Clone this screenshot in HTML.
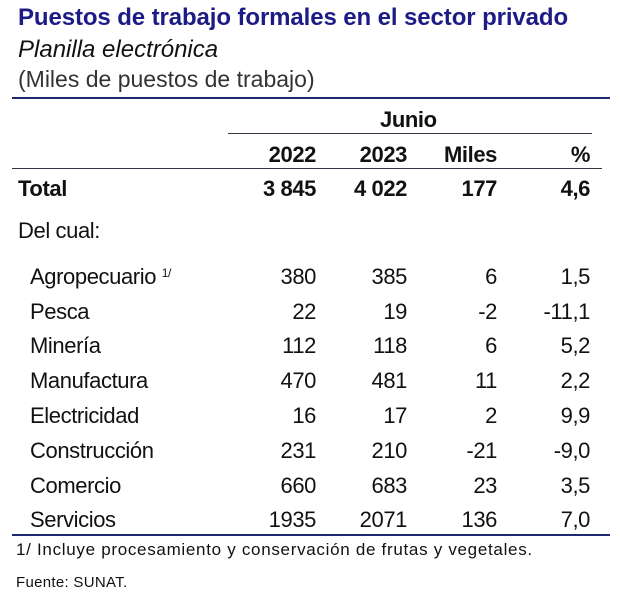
<!DOCTYPE html>
<html><head><meta charset="utf-8"><style>
html,body{margin:0;padding:0;background:#fff;}
body{width:620px;height:612px;position:relative;overflow:hidden;font-family:"Liberation Sans",Arial,sans-serif;color:#111;}
.t{position:absolute;white-space:nowrap;line-height:1;}
.r{position:absolute;white-space:nowrap;line-height:1;text-align:right;}
.n{font-size:22px;letter-spacing:-0.4px;}
.b{font-weight:bold;}
.line{position:absolute;background:#1f2a6e;}
</style></head><body>
<div class="t b" style="left:18px;top:6px;font-size:24px;color:#1c1c86;letter-spacing:-0.1px">Puestos de trabajo formales en el sector privado</div>
<div class="t" style="left:18px;top:38px;font-size:24px;font-style:italic">Planilla electrónica</div>
<div class="t" style="left:18px;top:68px;font-size:23px;color:#333">(Miles de puestos de trabajo)</div>
<div class="line" style="left:12px;top:97px;width:598px;height:2px"></div>
<div class="t n b" style="left:380px;top:109px">Junio</div>
<div class="line" style="left:228px;top:133px;width:364px;height:1px;background:#334"></div>
<div>
<div class="r n b" style="right:304px;top:144px">2022</div>
<div class="r n b" style="right:213px;top:144px">2023</div>
<div class="r n b" style="right:123px;top:144px">Miles</div>
<div class="r n b" style="right:30px;top:144px">%</div>
</div>
<div class="line" style="left:12px;top:168px;width:590px;height:1px;background:#334"></div>
<div>
<div class="t n b" style="left:18px;top:178px">Total</div>
<div class="r n b" style="right:304px;top:178px">3 845</div>
<div class="r n b" style="right:213px;top:178px">4 022</div>
<div class="r n b" style="right:123px;top:178px">177</div>
<div class="r n b" style="right:30px;top:178px">4,6</div>
</div>
<div class="t n" style="left:18px;top:220px">Del cual:</div>
<div><div class="t n" style="left:30px;top:266px">Agropecuario <sup style="font-size:12px;vertical-align:7px">1/</sup></div><div class="r n" style="right:304px;top:266px">380</div><div class="r n" style="right:213px;top:266px">385</div><div class="r n" style="right:123px;top:266px">6</div><div class="r n" style="right:30px;top:266px">1,5</div></div>
<div><div class="t n" style="left:30px;top:301px">Pesca</div><div class="r n" style="right:304px;top:301px">22</div><div class="r n" style="right:213px;top:301px">19</div><div class="r n" style="right:123px;top:301px">-2</div><div class="r n" style="right:30px;top:301px">-11,1</div></div>
<div><div class="t n" style="left:30px;top:335px">Minería</div><div class="r n" style="right:304px;top:335px">112</div><div class="r n" style="right:213px;top:335px">118</div><div class="r n" style="right:123px;top:335px">6</div><div class="r n" style="right:30px;top:335px">5,2</div></div>
<div><div class="t n" style="left:30px;top:370px">Manufactura</div><div class="r n" style="right:304px;top:370px">470</div><div class="r n" style="right:213px;top:370px">481</div><div class="r n" style="right:123px;top:370px">11</div><div class="r n" style="right:30px;top:370px">2,2</div></div>
<div><div class="t n" style="left:30px;top:405px">Electricidad</div><div class="r n" style="right:304px;top:405px">16</div><div class="r n" style="right:213px;top:405px">17</div><div class="r n" style="right:123px;top:405px">2</div><div class="r n" style="right:30px;top:405px">9,9</div></div>
<div><div class="t n" style="left:30px;top:440px">Construcción</div><div class="r n" style="right:304px;top:440px">231</div><div class="r n" style="right:213px;top:440px">210</div><div class="r n" style="right:123px;top:440px">-21</div><div class="r n" style="right:30px;top:440px">-9,0</div></div>
<div><div class="t n" style="left:30px;top:475px">Comercio</div><div class="r n" style="right:304px;top:475px">660</div><div class="r n" style="right:213px;top:475px">683</div><div class="r n" style="right:123px;top:475px">23</div><div class="r n" style="right:30px;top:475px">3,5</div></div>
<div><div class="t n" style="left:30px;top:509px">Servicios</div><div class="r n" style="right:304px;top:509px">1935</div><div class="r n" style="right:213px;top:509px">2071</div><div class="r n" style="right:123px;top:509px">136</div><div class="r n" style="right:30px;top:509px">7,0</div></div>
<div class="line" style="left:12px;top:534px;width:598px;height:2px"></div>
<div class="t" style="left:16px;top:541px;font-size:17px;letter-spacing:0.7px">1/ Incluye procesamiento y conservación de frutas y vegetales.</div>
<div class="t" style="left:16px;top:575px;font-size:15px;letter-spacing:0.3px">Fuente: SUNAT.</div>
</body></html>
